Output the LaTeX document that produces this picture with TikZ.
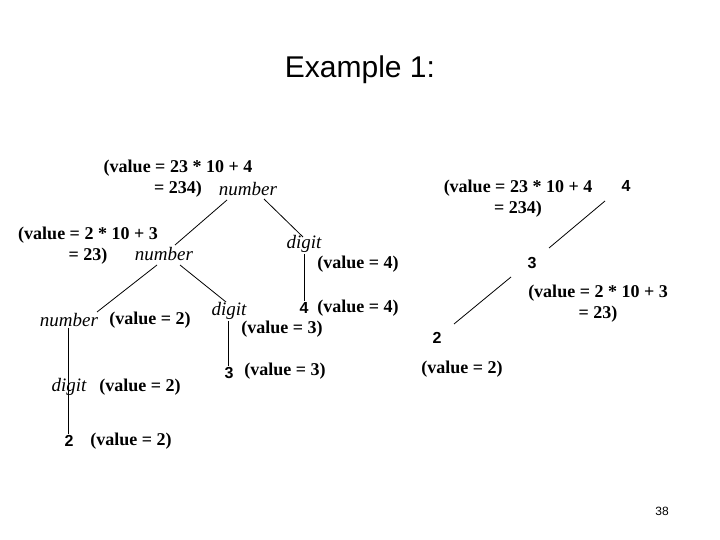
\documentclass[tikz,border=0pt]{standalone}
\usepackage{fontspec}
\setmainfont{Liberation Serif}
\newfontfamily\arial{Liberation Sans}
\begin{document}
\begin{tikzpicture}[x=1pt,y=-1pt,
  val/.style={font=\fontsize{18}{21}\selectfont\bfseries, inner sep=1pt, align=center},
  nt/.style={font=\fontsize{19}{21}\selectfont\itshape, inner sep=1pt},
  dg/.style={font=\arial\fontsize{16}{18}\selectfont\bfseries, inner sep=1pt},
  ln/.style={line width=0.8pt}]
\useasboundingbox (0,0) rectangle (720,540);
\node (title) at (360,70) {\arial\fontsize{30}{34}\selectfont Example 1:};
% left tree
\node[val] (v1) at (178,179) {(value = 23 * 10 + 4\\= 234)};
\node[nt] (n1) at (248,189) {number};
\node[val] (v2) at (88,246) {(value = 2 * 10 + 3\\= 23)};
\node[nt] (n2) at (164,254) {number};
\node[nt] (d1) at (304,244) {digit};
\node[val] (v3) at (358,264) {(value = 4)};
\node[dg] (four) at (304,308) {4};
\node[val] (v4) at (358,308) {(value = 4)};
\node[nt] (n3) at (69,320) {number};
\node[val] (v5) at (150,320) {(value = 2)};
\node[nt] (d2) at (229,311) {digit};
\node[val] (v6) at (282,329) {(value = 3)};
\node[dg] (three) at (229,373) {3};
\node[val] (v7) at (285,371) {(value = 3)};
\node[nt] (d3) at (69,387) {digit};
\node[val] (v8) at (140,387) {(value = 2)};
\node[dg] (two) at (69,441) {2};
\node[val] (v9) at (131,441) {(value = 2)};
\coordinate (n1a) at (227,200); \coordinate (n1b) at (264,199);
\coordinate (n2t) at (175,245); \coordinate (d1t) at (303,237);
\coordinate (n2a) at (157,265); \coordinate (n2b) at (180,265);
\coordinate (n3t) at (97,312); \coordinate (d2t) at (226,302);
\draw[ln] (n1a) -- (n2t);
\draw[ln] (n1b) -- (d1t);
\draw[ln] (n2a) -- (n3t);
\draw[ln] (n2b) -- (d2t);
\draw[ln] (d1.south) -- (four.north);
\draw[ln] ([xshift=-1pt]d2.south) -- ([xshift=-1pt]three.north);
\draw[ln] ([xshift=-1pt]n3.south) -- ([xshift=-1pt]two.north);
% right tree
\node[val] (r1) at (518,199) {(value = 23 * 10 + 4\\= 234)};
\node[dg] (rfour) at (626,186) {4};
\node[dg] (rthree) at (532,263) {3};
\node[val] (r2) at (598,304) {(value = 2 * 10 + 3\\= 23)};
\node[dg] (rtwo) at (437,338) {2};
\node[val] (r3) at (462,369) {(value = 2)};
\coordinate (a1) at (605,201); \coordinate (a2) at (549,248);
\coordinate (b1) at (511,277); \coordinate (b2) at (454,324);
\draw[ln] (a1) -- (a2);
\draw[ln] (b1) -- (b2);
\node (pg) at (662,511) {\arial\fontsize{12}{14}\selectfont 38};
\end{tikzpicture}
\end{document}
